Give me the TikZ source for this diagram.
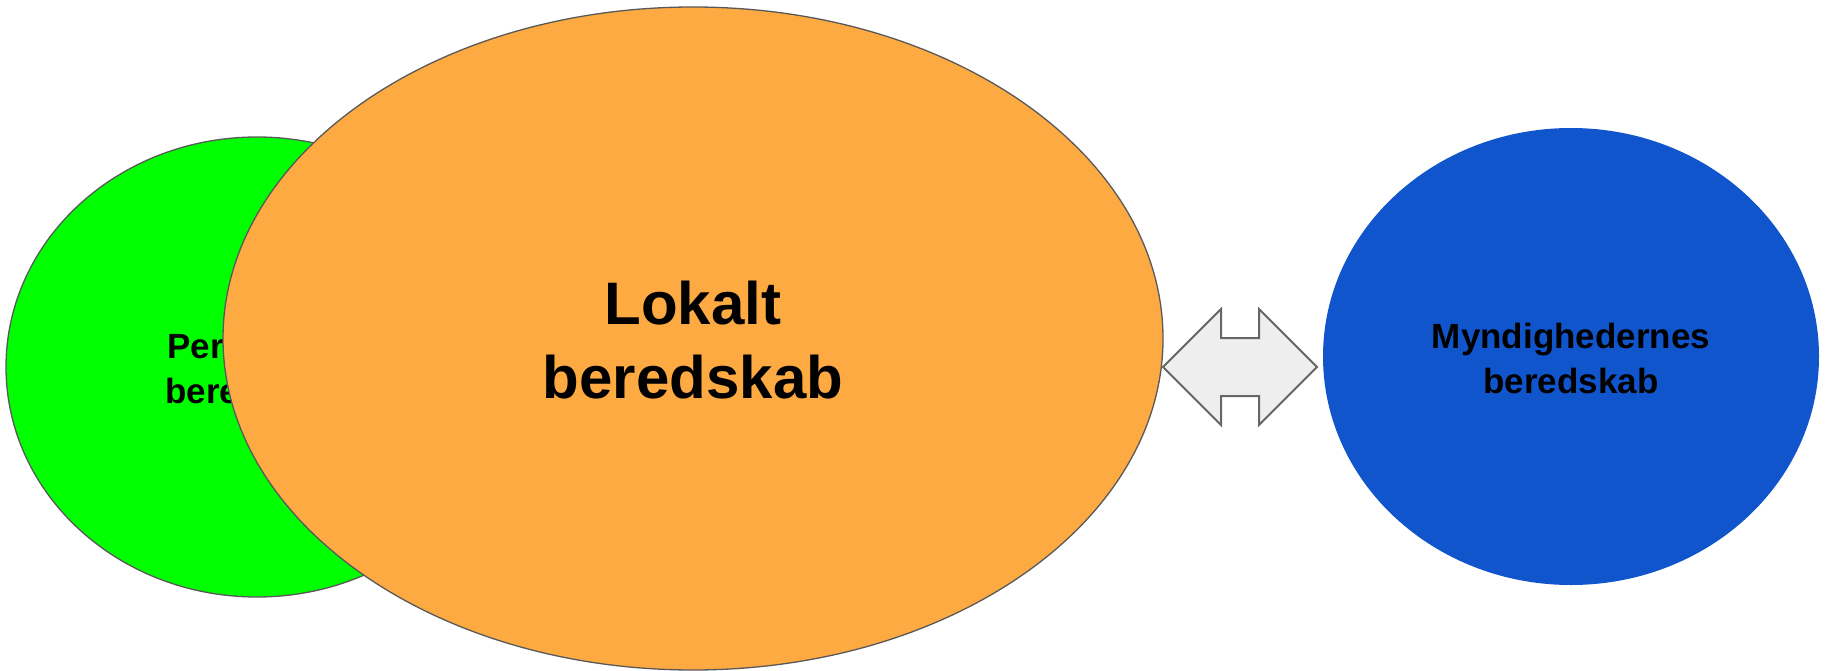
\documentclass[tikz,border=0pt]{standalone}
\usepackage{fontspec}
\setmainfont{Liberation Sans}
\usetikzlibrary{shapes.geometric}
\definecolor{cgreen}{HTML}{00FF00}
\definecolor{corange}{HTML}{FDAA42}
\definecolor{cblue}{HTML}{1155CC}
\definecolor{cline}{HTML}{595959}
\definecolor{carrowfill}{HTML}{EEEEEE}
\definecolor{carrowline}{HTML}{666666}
\tikzset{
  blob/.style={ellipse, draw=cline, line width=1.3pt, inner sep=0pt},
  smalltxt/.style={anchor=base, font=\bfseries\fontsize{35}{45}\selectfont, inner sep=0pt},
  bigtxt/.style={anchor=base, font=\bfseries\fontsize{60}{74}\selectfont, inner sep=0pt},
  blockarrow/.style={fill=carrowfill, draw=carrowline, line width=2pt, line join=miter}
}
\begin{document}
\begin{tikzpicture}[x=1pt,y=-1pt]
\useasboundingbox (0,0) rectangle (1825,671);
% green ellipse
\node[blob, fill=cgreen, minimum width=502pt, minimum height=460pt] (pers) at (257,367) {};
\node[smalltxt] (pers1) at (253,358) {Personligt};
\node[smalltxt] (pers2) at (253,403) {beredskab};
% orange ellipse
\node[blob, fill=corange, minimum width=940pt, minimum height=663pt] (lok) at (693,338.5) {};
\node[bigtxt] (lok1) at (693,324) {Lokalt};
\node[bigtxt] (lok2) at (693,398) {beredskab};
% double block arrow
\coordinate (al) at (1163,367);
\coordinate (ar) at (1317,367);
\draw[blockarrow] (al) -- (1221,309) -- (1221,338) -- (1259,338) -- (1259,309) -- (ar)
  -- (1259,425) -- (1259,396) -- (1221,396) -- (1221,425) -- cycle;
% blue ellipse
\node[ellipse, fill=cblue, draw=none, inner sep=0pt, minimum width=496pt, minimum height=457pt] (myn) at (1571,356.5) {};
\node[smalltxt] (myn1) at (1571,348) {Myndighedernes};
\node[smalltxt] (myn2) at (1571,393) {beredskab};
\end{tikzpicture}
\end{document}
